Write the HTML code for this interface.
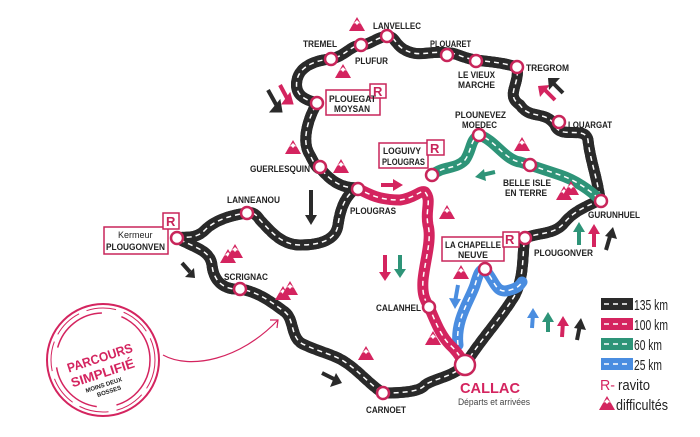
<!DOCTYPE html>
<html><head><meta charset="utf-8"><style>
body{margin:0;background:#fff}
svg{display:block}
text{font-family:"Liberation Sans",sans-serif;font-weight:bold;font-size:9px;fill:#222}
.r{fill:none;stroke-linecap:round;stroke-linejoin:round;stroke-width:11}
.d{fill:none;stroke:#fff;stroke-width:1.5;stroke-dasharray:5 4}
.n{fill:#fff;stroke:#c8255a;stroke-width:2.5}
.box{fill:#fff;stroke:#c8255a;stroke-width:1.5}
.R{fill:#c8255a;font-size:13px}
.L{font-weight:normal;font-size:15px}
</style></head><body>
<svg width="700" height="437" viewBox="0 0 700 437" xmlns="http://www.w3.org/2000/svg">
<defs>
<g id="m"><path d="M-8 7 L0 -7 L8 7 Z" fill="#d4245f"/><path d="M-4 0 L0 -4 L4 0 L2 -1 L0 1 L-2 -1Z" fill="#fff"/></g>
<g id="m2"><use href="#m" x="-3" y="2"/><use href="#m" x="4" y="-3"/></g>
</defs>
<path id="blk" class="r" stroke="#2a2a2a" d="M465 365 C480 340 500 320 515 295 C525 275 522 250 525 238 C540 232 555 235 565 222 C575 210 590 205 600 200 C598 180 590 160 588 140 C585 125 560 140 555 125 C545 110 530 120 520 105 C505 95 520 85 517 67 C500 62 490 62 476 60 C462 58 455 52 447 53 C430 50 420 58 405 50 C395 45 395 36 387 36 C375 38 370 45 361 45 C350 46 345 56 331 59 C318 60 300 65 297 80 C294 95 305 100 317 103 C310 115 300 140 310 155 C315 165 318 170 320 168 C330 180 340 188 357 188 M357 188 C345 195 340 210 338 225 C336 240 320 245 300 245 C280 245 268 228 260 220 C255 212 250 212 247 213 C232 215 215 220 205 230 C195 240 185 236 177 238 C195 248 210 250 212 265 C214 285 228 290 240 289 C260 292 275 305 285 312 C295 320 290 340 305 345 C320 352 335 355 345 362 C358 370 370 385 383 393 C400 393 420 392 425 385 C435 378 450 378 465 365"/>
<use href="#blk" class="d"/>
<path class="d" d="M465 365 C480 340 500 320 515 295 C525 275 522 250 525 238 C540 232 555 235 565 222 C575 210 590 205 600 200 C598 180 590 160 588 140 C585 125 560 140 555 125 C545 110 530 120 520 105 C505 95 520 85 517 67 C500 62 490 62 476 60 C462 58 455 52 447 53 C430 50 420 58 405 50 C395 45 395 36 387 36 C375 38 370 45 361 45 C350 46 345 56 331 59 C318 60 300 65 297 80 C294 95 305 100 317 103 C310 115 300 140 310 155 C315 165 318 170 320 168 C330 180 340 188 357 188 M357 188 C345 195 340 210 338 225 C336 240 320 245 300 245 C280 245 268 228 260 220 C255 212 250 212 247 213 C232 215 215 220 205 230 C195 240 185 236 177 238 C195 248 210 250 212 265 C214 285 228 290 240 289 C260 292 275 305 285 312 C295 320 290 340 305 345 C320 352 335 355 345 362 C358 370 370 385 383 393 C400 393 420 392 425 385 C435 378 450 378 465 365"/>
<path class="r" stroke="#2e9478" d="M432 175 C445 165 455 170 465 160 C472 150 470 140 479 135 C495 140 505 160 520 162 C530 165 545 170 560 175 C575 180 590 190 600 200"/>
<path class="d" d="M432 175 C445 165 455 170 465 160 C472 150 470 140 479 135 C495 140 505 160 520 162 C530 165 545 170 560 175 C575 180 590 190 600 200"/>
<path class="r" stroke="#4a8de0" d="M458 345 C455 320 470 300 475 285 C478 275 480 268 485 270 C495 280 495 295 510 290 C518 288 520 285 522 282"/>
<path class="d" d="M458 345 C455 320 470 300 475 285 C478 275 480 268 485 270 C495 280 495 295 510 290 C518 288 520 285 522 282"/>
<path class="r" stroke="#d4245f" d="M357 188 C370 195 380 200 400 200 C415 198 420 190 425 192 C432 200 425 210 428 225 C432 240 425 260 423 280 C422 295 425 300 429 307 C435 320 440 335 450 345 C458 352 462 360 465 365"/>
<path class="d" d="M357 188 C370 195 380 200 400 200 C415 198 420 190 425 192 C432 200 425 210 428 225 C432 240 425 260 423 280 C422 295 425 300 429 307 C435 320 440 335 450 345 C458 352 462 360 465 365"/>
<g>
<circle class="n" cx="387" cy="36" r="6"/><circle class="n" cx="361" cy="45" r="6"/><circle class="n" cx="331" cy="59" r="6"/>
<circle class="n" cx="447" cy="55" r="6"/><circle class="n" cx="476" cy="61" r="6"/><circle class="n" cx="517" cy="67" r="6"/>
<circle class="n" cx="559" cy="122" r="6"/><circle class="n" cx="317" cy="103" r="6"/><circle class="n" cx="320" cy="167" r="6"/>
<circle class="n" cx="358" cy="189" r="6"/><circle class="n" cx="432" cy="175" r="6"/><circle class="n" cx="479" cy="135" r="6"/>
<circle class="n" cx="530" cy="165" r="6"/><circle class="n" cx="601" cy="201" r="6"/><circle class="n" cx="525" cy="238" r="6"/>
<circle class="n" cx="485" cy="269" r="6"/><circle class="n" cx="429" cy="307" r="6"/><circle class="n" cx="247" cy="213" r="6"/>
<circle class="n" cx="177" cy="238" r="6"/><circle class="n" cx="240" cy="289" r="6"/><circle class="n" cx="383" cy="393" r="6"/>
<circle class="n" cx="465" cy="365" r="10"/>
</g>
<text x="373" y="29" textLength="48" lengthAdjust="spacingAndGlyphs">LANVELLEC</text>
<text x="355" y="64" textLength="33" lengthAdjust="spacingAndGlyphs">PLUFUR</text>
<text x="303" y="47" textLength="34" lengthAdjust="spacingAndGlyphs">TREMEL</text>
<text x="430" y="47" textLength="41" lengthAdjust="spacingAndGlyphs">PLOUARET</text>
<text x="458" y="78" textLength="37" lengthAdjust="spacingAndGlyphs">LE VIEUX</text><text x="458" y="88" textLength="37" lengthAdjust="spacingAndGlyphs">MARCHE</text>
<text x="526" y="71" textLength="43" lengthAdjust="spacingAndGlyphs">TREGROM</text>
<text x="568" y="128" textLength="44" lengthAdjust="spacingAndGlyphs">LOUARGAT</text>
<text x="455" y="118" textLength="51" lengthAdjust="spacingAndGlyphs">PLOUNEVEZ</text><text x="462" y="128" textLength="35" lengthAdjust="spacingAndGlyphs">MOEDEC</text>
<text x="503" y="186" textLength="48" lengthAdjust="spacingAndGlyphs">BELLE ISLE</text><text x="505" y="196" textLength="42" lengthAdjust="spacingAndGlyphs">EN TERRE</text>
<text x="588" y="218" textLength="52" lengthAdjust="spacingAndGlyphs">GURUNHUEL</text>
<text x="534" y="256" textLength="59" lengthAdjust="spacingAndGlyphs">PLOUGONVER</text>
<text x="250" y="172" textLength="60" lengthAdjust="spacingAndGlyphs">GUERLESQUIN</text>
<text x="350" y="214" textLength="46" lengthAdjust="spacingAndGlyphs">PLOUGRAS</text>
<text x="227" y="203" textLength="53" lengthAdjust="spacingAndGlyphs">LANNEANOU</text>
<text x="224" y="280" textLength="44" lengthAdjust="spacingAndGlyphs">SCRIGNAC</text>
<text x="376" y="311" textLength="45" lengthAdjust="spacingAndGlyphs">CALANHEL</text>
<text x="366" y="413" textLength="40" lengthAdjust="spacingAndGlyphs">CARNOET</text>
<rect class="box" x="326" y="90" width="54" height="25"/><rect class="box" x="370" y="84" width="16" height="14"/>
<text x="329" y="102" textLength="47" lengthAdjust="spacingAndGlyphs">PLOUEGAT</text><text x="334" y="112" textLength="36" lengthAdjust="spacingAndGlyphs">MOYSAN</text><text class="R" x="373" y="96">R</text>
<rect class="box" x="379" y="143" width="49" height="25"/><rect class="box" x="427" y="140" width="17" height="15"/>
<text x="383" y="154" textLength="38" lengthAdjust="spacingAndGlyphs">LOGUIVY</text><text x="382" y="165" textLength="43" lengthAdjust="spacingAndGlyphs">PLOUGRAS</text><text class="R" x="430" y="153">R</text>
<rect class="box" x="442" y="237" width="62" height="24"/><rect class="box" x="503" y="232" width="16" height="15"/>
<text x="445" y="248" textLength="56" lengthAdjust="spacingAndGlyphs">LA CHAPELLE</text><text x="458" y="258" textLength="30" lengthAdjust="spacingAndGlyphs">NEUVE</text><text class="R" x="505" y="244">R</text>
<rect class="box" x="104" y="227" width="64" height="27"/><rect class="box" x="163" y="213" width="16" height="16"/>
<text x="118" y="238" style="font-weight:normal;font-size:9px">Kermeur</text><text x="106" y="250" textLength="59" lengthAdjust="spacingAndGlyphs">PLOUGONVEN</text><text class="R" x="166" y="226">R</text>
<text x="460" y="393" style="fill:#d4245f;font-size:15px" textLength="60" lengthAdjust="spacingAndGlyphs">CALLAC</text>
<text x="458" y="405" style="font-weight:normal;font-size:9px;fill:#444" textLength="72" lengthAdjust="spacingAndGlyphs">Départs et arrivées</text>
<use href="#m" x="357" y="24"/><use href="#m" x="343" y="71"/><use href="#m" x="293" y="147"/><use href="#m" x="341" y="166"/>
<use href="#m" x="522" y="144"/><use href="#m2" x="567" y="191"/>
<use href="#m" x="447" y="212"/><use href="#m" x="461" y="272"/><use href="#m" x="433" y="338"/><use href="#m" x="366" y="353"/>
<use href="#m2" x="231" y="254"/><use href="#m2" x="286" y="291"/>
<g stroke-width="4" fill="none">
<path d="M268 90 L278 108" stroke="#2a2a2a"/><path d="M270 112 L282 112 L280 100Z" fill="#2a2a2a" stroke="#2a2a2a" stroke-width="1"/>
<path d="M280 85 L288 100" stroke="#d4245f"/><path d="M282 104 L293 104 L290 93Z" fill="#d4245f" stroke="#d4245f" stroke-width="1"/>
<path d="M311 190 L311 218" stroke="#2a2a2a"/><path d="M305 215 L311 225 L317 215Z" fill="#2a2a2a"/>
<path d="M381 185 L395 185" stroke="#d4245f"/><path d="M393 179 L403 185 L393 191Z" fill="#d4245f"/>
<path d="M495 172 L482 175" stroke="#2e9478"/><path d="M484 169 L475 177 L486 181Z" fill="#2e9478"/>
<path d="M555 100 L545 90" stroke="#d4245f"/><path d="M538 86 L550 85 L540 97Z" fill="#d4245f"/>
<path d="M563 93 L553 83" stroke="#2a2a2a"/><path d="M548 78 L560 78 L549 90Z" fill="#2a2a2a"/>
<path d="M182 263 L190 272" stroke="#2a2a2a"/><path d="M185 277 L195 278 L194 268Z" fill="#2a2a2a"/>
<path d="M322 373 L336 380" stroke="#2a2a2a"/><path d="M330 387 L342 383 L336 373Z" fill="#2a2a2a"/>
<path d="M385 255 L385 275" stroke="#d4245f"/><path d="M379 272 L385 281 L391 272Z" fill="#d4245f"/>
<path d="M400 255 L400 272" stroke="#2e9478"/><path d="M394 269 L400 278 L406 269Z" fill="#2e9478"/>
<path d="M458 285 L455 302" stroke="#4a8de0"/><path d="M449 298 L455 309 L461 299Z" fill="#4a8de0"/>
<path d="M579 245 L579 228" stroke="#2e9478"/><path d="M573 232 L579 222 L585 232Z" fill="#2e9478"/>
<path d="M594 247 L594 230" stroke="#d4245f"/><path d="M588 234 L594 224 L600 234Z" fill="#d4245f"/>
<path d="M606 250 L611 233" stroke="#2a2a2a"/><path d="M605 236 L613 227 L617 239Z" fill="#2a2a2a"/>
<path d="M532 328 L533 314" stroke="#4a8de0"/><path d="M527 318 L533 308 L539 318Z" fill="#4a8de0"/>
<path d="M548 332 L548 318" stroke="#2e9478"/><path d="M542 322 L548 312 L554 322Z" fill="#2e9478"/>
<path d="M562 337 L563 322" stroke="#d4245f"/><path d="M557 326 L563 316 L569 326Z" fill="#d4245f"/>
<path d="M577 340 L580 325" stroke="#2a2a2a"/><path d="M574 328 L581 318 L586 330Z" fill="#2a2a2a"/>
</g>
<g>
<rect x="601" y="298" width="32" height="12" fill="#2a2a2a"/><path d="M604 304 H631" class="d"/>
<rect x="601" y="318" width="32" height="12" fill="#d4245f"/><path d="M604 324 H631" class="d"/>
<rect x="601" y="338" width="32" height="12" fill="#2e9478"/><path d="M604 344 H631" class="d"/>
<rect x="601" y="358" width="32" height="12" fill="#4a8de0"/><path d="M604 364 H631" class="d"/>
<text class="L" x="634" y="310" textLength="34" lengthAdjust="spacingAndGlyphs">135 km</text>
<text class="L" x="634" y="330" textLength="34" lengthAdjust="spacingAndGlyphs">100 km</text>
<text class="L" x="634" y="350" textLength="28" lengthAdjust="spacingAndGlyphs">60 km</text>
<text class="L" x="634" y="370" textLength="28" lengthAdjust="spacingAndGlyphs">25 km</text>
<text class="L" x="600" y="390" style="fill:#d4245f" textLength="15" lengthAdjust="spacingAndGlyphs">R-</text>
<text class="L" x="618" y="390" textLength="32" lengthAdjust="spacingAndGlyphs">ravito</text>
<use href="#m" x="607" y="403"/>
<text class="L" x="616" y="410" textLength="52" lengthAdjust="spacingAndGlyphs">difficultés</text>
</g>
<g fill="none" stroke="#d4245f">
<circle cx="103" cy="360" r="56" stroke-width="2"/>
<circle cx="103" cy="360" r="52" stroke-width="1" stroke-dasharray="30 8"/>
<circle cx="103" cy="360" r="47" stroke-width="1.5" stroke-dasharray="60 20"/>
<path d="M163 355 C190 370 240 360 278 320" stroke-width="1.2"/>
<path d="M270 320 L278 320 L277 328" stroke-width="1.2"/>
</g>
<text x="64" y="362" transform="rotate(-18 100 352)" style="fill:#d4245f;font-size:13px" textLength="68" lengthAdjust="spacingAndGlyphs">PARCOURS</text>
<text x="68" y="378" transform="rotate(-18 100 368)" style="fill:#d4245f;font-size:13px" textLength="66" lengthAdjust="spacingAndGlyphs">SIMPLIFIÉ</text>
<text x="84" y="388" transform="rotate(-18 100 383)" style="font-size:6px">MOINS DEUX</text>
<text x="96" y="396" transform="rotate(-18 100 391)" style="font-size:6px">BOSSES</text>
</svg>
</body></html>
